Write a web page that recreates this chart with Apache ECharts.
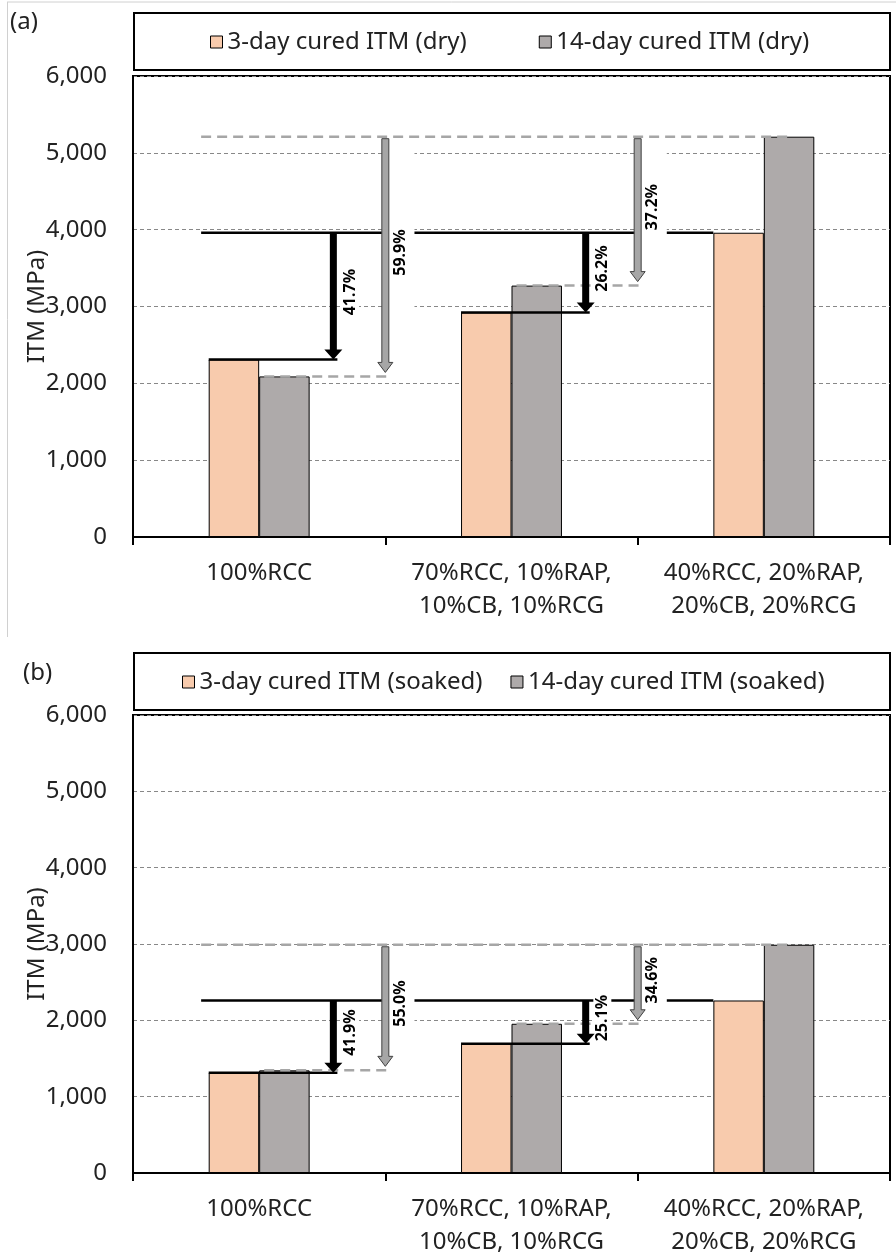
<!DOCTYPE html>
<html>
<head>
<meta charset="utf-8">
<script src="https://cdn.jsdelivr.net/npm/echarts@6/dist/echarts.min.js"></script>
<style>html,body{margin:0;padding:0;background:#fff}#c{width:896px;height:1259px}</style>
</head>
<body>
<div id="c"></div>
<script>
// ---------- data ----------
const categories = ['100%RCC', '70%RCC, 10%RAP,\n10%CB, 10%RCG', '40%RCC, 20%RAP,\n20%CB, 20%RCG'];
const yMin = 0, yMax = 6000, yStep = 1000;
const seriesNamesA = ['3-day cured ITM (dry)', '14-day cured ITM (dry)'];
const seriesNamesB = ['3-day cured ITM (soaked)', '14-day cured ITM (soaked)'];
const dry3 = [2310, 2923, 3960];
const dry14 = [2090, 3272, 5210];
const soaked3 = [1313, 1693, 2260];
const soaked14 = [1345, 1955, 2990];
const dryDrop3 = ['41.7%', '26.2%'];
const dryDrop14 = ['59.9%', '37.2%'];
const soakedDrop3 = ['41.9%', '25.1%'];
const soakedDrop14 = ['55.0%', '34.6%'];
const yTitle = 'ITM (MPa)';

// ---------- styles ----------
const FONT = "'Noto Sans', sans-serif";
const TXT = '#222';
const ORANGE = '#F8CBAD';
const GRAY = '#AEAAAA';

function annot(v3, v14, lab3, lab14) {
  return function (params, api) {
    const w = api.size([1, 0])[0];
    const cx = i => api.coord([i, 0])[0];
    const cy = v => api.coord([0, v])[1];
    const kids = [];
    const blackLine = { stroke: '#000', lineWidth: 2.5 };
    const grayDash = { stroke: '#A6A6A6', lineWidth: 2.5, lineDash: [10, 6] };
    const yT3 = cy(v3[2]), yT14 = cy(v14[2]);
    const line = (x1, y1, x2, y2, st) => ({ type: 'line', shape: { x1, y1, x2, y2 }, style: st });
    kids.push(line(cx(0) - 0.23 * w, yT14, cx(2) + 0.1 * w, yT14, grayDash));
    kids.push(line(cx(0) - 0.23 * w, yT3, cx(2) - 0.2 * w, yT3, blackLine));
    const labels = [];
    const arrows = [];
    for (let i = 0; i < 2; i++) {
      const y3 = cy(v3[i]), y14 = cy(v14[i]);
      kids.push(line(cx(i) - 0.2 * w, y3, cx(i) + 0.31 * w, y3, blackLine));
      kids.push(line(cx(i) + 0.02 * w, y14, cx(i) + 0.52 * w, y14, grayDash));
      const gx = cx(i) + 0.56 * w;
      labels.push({ type: 'rect', shape: { x: gx - 14, y: yT14 + 3, width: 28, height: y14 - yT14 - 8 }, style: { fill: '#fff' } });
      const bx = cx(i) + 0.36 * w;
      const txt = (x, y, t) => ({
        type: 'text', x, y, rotation: Math.PI / 2,
        style: { text: t, fontFamily: FONT, fontSize: 16, fontWeight: 'bold', fill: '#000',
                 align: 'center', verticalAlign: 'middle', backgroundColor: '#fff', padding: [1, 2] }
      });
      labels.push(txt(bx, (yT3 + y3) / 2 - 4, lab3[i]));
      labels.push(txt(gx, (yT14 + y14) / 2 - 4, lab14[i]));
      // black arrow
      const ax = cx(i) + 0.294 * w;
      const hl = 10;
      arrows.push({ type: 'polygon', shape: { points: [
        [ax - 3.5, yT3], [ax + 3.5, yT3], [ax + 3.5, y3 - hl], [ax + 9, y3 - hl], [ax, y3], [ax - 9, y3 - hl], [ax - 3.5, y3 - hl]
      ] }, style: { fill: '#000' } });
      // gray arrow
      const gax = cx(i) + 0.5 * w;
      const gt = yT14 + 2, gb = y14 - 4;
      arrows.push({ type: 'polygon', shape: { points: [
        [gax - 3.5, gt], [gax + 3.5, gt], [gax + 3.5, gb - hl], [gax + 7.5, gb - hl], [gax, gb], [gax - 7.5, gb - hl], [gax - 3.5, gb - hl]
      ] }, style: { fill: '#A6A6A6', stroke: '#404040', lineWidth: 1 } });
    }
    return { type: 'group', children: kids.concat(labels, arrows) };
  };
}

function xAxis(gi) {
  return {
    type: 'category', gridIndex: gi, data: categories,
    axisLine: { lineStyle: { color: '#000', width: 2 } },
    axisTick: { show: true, length: 8, lineStyle: { color: '#000', width: 2 } },
    axisLabel: { fontFamily: FONT, fontSize: 24, color: TXT, margin: 20, lineHeight: 33, interval: 0 },
    splitLine: { show: false }
  };
}
function yAxis(gi) {
  return {
    type: 'value', gridIndex: gi, min: yMin, max: yMax, interval: yStep,
    name: yTitle, nameLocation: 'middle', nameGap: 84, nameMoveOverlap: false,
    nameTextStyle: { fontFamily: FONT, fontSize: 24, color: TXT },
    axisLine: { show: true, lineStyle: { color: '#000', width: 2 } },
    axisTick: { show: false },
    axisLabel: { fontFamily: FONT, fontSize: 24, color: TXT, margin: 26,
                 formatter: v => v.toLocaleString('en-US') },
    splitLine: { show: true, lineStyle: { color: '#888', width: 1, type: [4, 3] } }
  };
}
function bar(name, data, color, gi) {
  return {
    name, type: 'bar', xAxisIndex: gi, yAxisIndex: gi, data,
    barWidth: '20%', barGap: '0%',
    itemStyle: { color, borderColor: '#000', borderWidth: 1 }, z: 2
  };
}
function legend(names, left, top, gap) {
  return {
    data: names, top, left, itemGap: gap, itemWidth: 12, itemHeight: 12, icon: 'rect',
    padding: 0,
    itemStyle: { borderColor: '#000', borderWidth: 1 },
    textStyle: { fontFamily: FONT, fontSize: 24, color: TXT }
  };
}

const chart = echarts.init(document.getElementById('c'), null, { renderer: 'canvas' });
chart.setOption({
  animation: false,
  backgroundColor: '#fff',
  textStyle: { fontFamily: FONT },
  grid: [
    { left: 133, right: 6, top: 76, height: 461, show: true, borderColor: '#000', borderWidth: 2, containLabel: false },
    { left: 133, right: 6, top: 715, height: 460, show: true, borderColor: '#000', borderWidth: 2, containLabel: false }
  ],
  legend: [legend(seriesNamesA, 210, 30, 72), legend(seriesNamesB, 182, 670, 28)],
  xAxis: [xAxis(0), xAxis(1)],
  yAxis: [yAxis(0), yAxis(1)],
  series: [
    bar(seriesNamesA[0], dry3, ORANGE, 0),
    bar(seriesNamesA[1], dry14, GRAY, 0),
    bar(seriesNamesB[0], soaked3, ORANGE, 1),
    bar(seriesNamesB[1], soaked14, GRAY, 1),
    { type: 'custom', xAxisIndex: 0, yAxisIndex: 0, data: [[0, 0]], encode: { x: 0, y: 1 }, z: 10, clip: false,
      renderItem: annot(dry3, dry14, dryDrop3, dryDrop14), silent: true },
    { type: 'custom', xAxisIndex: 1, yAxisIndex: 1, data: [[0, 0]], encode: { x: 0, y: 1 }, z: 10, clip: false,
      renderItem: annot(soaked3, soaked14, soakedDrop3, soakedDrop14), silent: true }
  ],
  graphic: [
    { type: 'line', shape: { x1: 7, y1: 2, x2: 896, y2: 2 }, style: { stroke: '#d0d0d0', lineWidth: 1 }, silent: true },
    { type: 'line', shape: { x1: 7.5, y1: 2, x2: 7.5, y2: 637 }, style: { stroke: '#d0d0d0', lineWidth: 1 }, silent: true },
    { type: 'rect', shape: { x: 134, y: 13, width: 756, height: 57 }, style: { fill: 'none', stroke: '#000', lineWidth: 2 }, silent: true },
    { type: 'rect', shape: { x: 134, y: 653, width: 756, height: 57 }, style: { fill: 'none', stroke: '#000', lineWidth: 2 }, silent: true },
    { type: 'text', x: 10, y: 22, style: { text: '(a)', fontFamily: FONT, fontSize: 24, fill: TXT, verticalAlign: 'middle' }, silent: true },
    { type: 'text', x: 23, y: 673, style: { text: '(b)', fontFamily: FONT, fontSize: 24, fill: TXT, verticalAlign: 'middle' }, silent: true }
  ]
});
</script>
</body>
</html>
